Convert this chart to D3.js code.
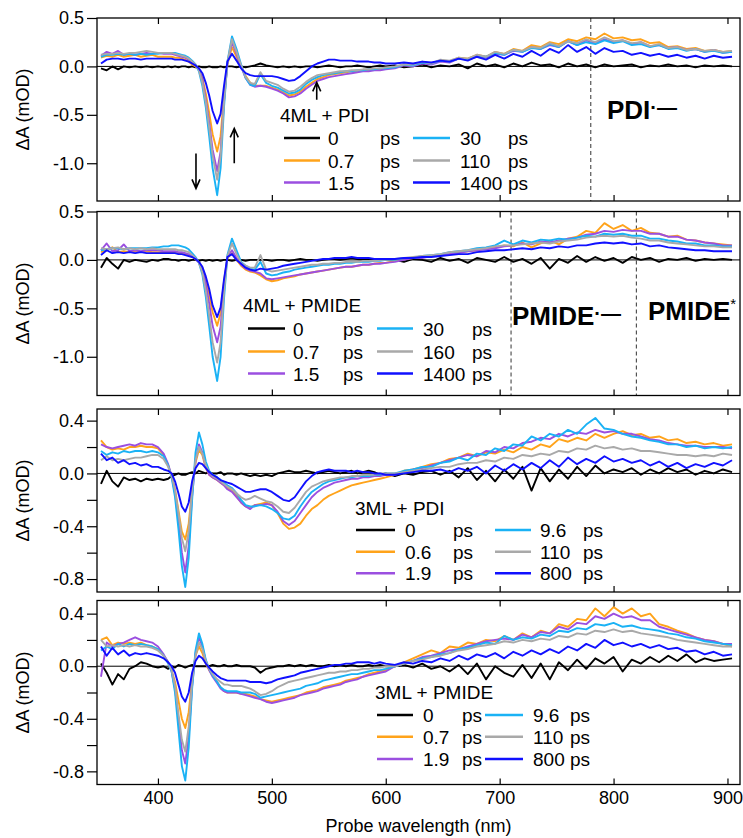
<!DOCTYPE html>
<html><head><meta charset="utf-8">
<script src="https://cdn.jsdelivr.net/npm/d3@7"></script>
<style>body{margin:0;background:#fff} svg{display:block} text{font-family:"Liberation Sans",Arial,sans-serif;fill:#000}</style>
</head><body><svg id="c" width="743" height="838"></svg>
<script>
const wavelengths = [350,355,360,365,370,375,380,385,390,395,400,405,409,412,415,418,421,424,427,430,433,436,439,442,445,448,452,455,458,461,465,469,473,477,481,485,490,495,500,505,510,515,520,525,530,535,540,545,550,555,560,565,570,575,580,585,590,595,600,608,616,624,632,640,648,656,664,672,680,688,696,704,712,720,728,736,744,752,760,768,776,784,792,800,808,816,824,832,840,848,856,864,872,880,888,896,904];
const xTickValues = [400,500,600,700,800,900];
const seriesColors = ["#000000","#ffa31a","#9b4fe0","#1ab2f5","#a9a9a9","#1010ff"];
const legendTitles = ["4ML + PDI","4ML + PMIDE","3ML + PDI","3ML + PMIDE"];
const p1Labels = ["0","0.7","1.5","30","110","1400"];
const p2Labels = ["0","0.7","1.5","30","160","1400"];
const p3Labels = ["0","0.6","1.9","9.6","110","800"];
const p4Labels = ["0","0.7","1.9","9.6","110","800"];

// Panel 1: 4ML + PDI
const p1_0 = [-0.02,-0.04,0.0,-0.03,0.0,-0.01,0.0,-0.01,0.0,-0.01,0.0,-0.01,
 0.0,-0.01,0.0,-0.01,0.0,0.0,-0.01,0.0,-0.01,0.0,-0.01,-0.01,0.0,-0.01,
 -0.01,0.0,-0.01,0.0,0.0,-0.01,0.0,-0.01,0.0,0.01,
 0.03,0.01,0.0,-0.01,0.0,-0.01,0.0,-0.01,0.0,0.0,-0.01,0.0,0.01,0.0,-0.01,0.0,0.0,0.01,0.0,-0.01,0.0,0.01,0.0,
 0.01,-0.01,0.0,0.02,-0.01,0.01,0.0,0.02,-0.02,0.03,0.0,0.02,-0.01,0.03,0.0,0.04,0.01,0.02,-0.01,0.03,0.0,0.02,-0.01,0.02,0.0,0.01,0.02,-0.01,0.01,0.0,0.02,0.0,0.01,-0.01,0.01,0.0,0.01,0.0];
const p1_07 = [0.09,0.11,0.1,0.12,0.1,0.11,0.12,0.1,0.11,0.12,0.1,0.1,
 0.1,0.1,0.09,0.09,0.08,0.07,0.05,0.02,0.0,-0.03,-0.12,-0.28,-0.48,-0.7,
 -0.88,-0.72,-0.3,0.02,0.2,0.1,0.0,-0.1,-0.17,-0.2,
 -0.2,-0.2,-0.22,-0.24,-0.27,-0.3,-0.29,-0.26,-0.21,-0.17,-0.13,-0.11,-0.09,-0.08,-0.07,-0.06,-0.05,-0.05,-0.04,-0.04,-0.03,-0.03,-0.02,
 -0.01,0.02,0.01,0.04,0.03,0.06,0.05,0.09,0.08,0.12,0.1,0.15,0.13,0.18,0.16,0.22,0.2,0.25,0.23,0.28,0.26,0.3,0.28,0.34,0.29,0.3,0.27,0.28,0.24,0.25,0.2,0.21,0.18,0.19,0.16,0.17,0.15,0.16];
const p1_15 = [0.11,0.15,0.13,0.16,0.12,0.13,0.12,0.13,0.14,0.13,0.14,0.13,
 0.13,0.13,0.12,0.11,0.1,0.09,0.07,0.04,0.01,-0.03,-0.14,-0.34,-0.58,-0.86,
 -1.08,-0.88,-0.36,0.03,0.25,0.13,0.0,-0.12,-0.19,-0.21,
 -0.2,-0.21,-0.23,-0.25,-0.28,-0.32,-0.31,-0.28,-0.23,-0.19,-0.15,-0.13,-0.11,-0.1,-0.09,-0.08,-0.07,-0.06,-0.05,-0.05,-0.04,-0.04,-0.03,
 -0.02,0.01,0.0,0.03,0.02,0.05,0.04,0.08,0.07,0.1,0.09,0.13,0.12,0.16,0.15,0.2,0.18,0.22,0.2,0.26,0.22,0.27,0.24,0.28,0.25,0.27,0.23,0.25,0.21,0.22,0.19,0.2,0.17,0.18,0.15,0.17,0.14,0.15];
const p1_30 = [0.1,0.12,0.12,0.13,0.12,0.13,0.12,0.13,0.12,0.13,0.13,0.14,
 0.14,0.14,0.14,0.13,0.12,0.11,0.09,0.06,0.02,-0.05,-0.2,-0.42,-0.72,-1.05,
 -1.33,-1.05,-0.42,0.05,0.31,0.18,0.02,-0.12,-0.19,-0.2,
 -0.08,-0.17,-0.2,-0.22,-0.25,-0.28,-0.27,-0.24,-0.18,-0.14,-0.11,-0.09,-0.08,-0.07,-0.06,-0.05,-0.05,-0.04,-0.04,-0.03,-0.03,-0.02,-0.02,
 -0.01,0.02,0.01,0.04,0.03,0.06,0.05,0.08,0.07,0.11,0.1,0.14,0.12,0.17,0.15,0.19,0.18,0.23,0.2,0.26,0.22,0.25,0.23,0.27,0.24,0.26,0.22,0.23,0.2,0.22,0.18,0.19,0.16,0.18,0.15,0.16,0.14,0.15];
const p1_110 = [0.12,0.13,0.13,0.14,0.13,0.14,0.14,0.15,0.16,0.15,0.14,0.14,
 0.14,0.14,0.13,0.12,0.11,0.1,0.08,0.05,0.02,-0.04,-0.17,-0.37,-0.63,-0.92,
 -1.17,-0.93,-0.37,0.04,0.28,0.15,0.01,-0.11,-0.17,-0.18,
 -0.06,-0.15,-0.17,-0.19,-0.23,-0.26,-0.25,-0.21,-0.16,-0.12,-0.09,-0.08,-0.07,-0.06,-0.05,-0.05,-0.04,-0.04,-0.03,-0.03,-0.02,-0.02,-0.01,
 0.0,0.02,0.02,0.05,0.03,0.07,0.06,0.09,0.08,0.12,0.1,0.15,0.13,0.17,0.16,0.2,0.19,0.24,0.21,0.26,0.24,0.28,0.25,0.3,0.26,0.27,0.24,0.25,0.21,0.23,0.19,0.2,0.17,0.18,0.16,0.17,0.15,0.16];
const p1_1400 = [0.03,0.07,0.08,0.08,0.07,0.08,0.08,0.07,0.08,0.08,0.08,0.08,
 0.08,0.08,0.07,0.07,0.07,0.06,0.05,0.03,0.01,-0.02,-0.07,-0.17,-0.3,-0.46,
 -0.59,-0.49,-0.2,0.05,0.13,0.06,-0.02,-0.07,-0.09,-0.1,
 -0.1,-0.1,-0.1,-0.11,-0.13,-0.15,-0.14,-0.1,-0.05,0.0,0.03,0.05,0.07,0.07,0.06,0.06,0.06,0.05,0.05,0.05,0.04,0.04,0.03,
 0.03,0.04,0.03,0.05,0.04,0.06,0.05,0.08,0.06,0.1,0.07,0.12,0.08,0.13,0.1,0.16,0.11,0.18,0.14,0.22,0.15,0.2,0.13,0.19,0.15,0.16,0.12,0.14,0.11,0.13,0.1,0.12,0.09,0.11,0.08,0.11,0.09,0.1];

// Panel 2: 4ML + PMIDE
const p2_0 = [-0.08,0.02,-0.04,-0.09,0.0,-0.02,0.0,-0.01,-0.02,0.0,-0.01,0.01,
 0.01,0.0,0.0,-0.01,0.0,0.0,-0.01,0.0,0.0,-0.01,0.0,-0.01,0.0,-0.01,
 0.0,-0.01,0.0,0.0,-0.01,0.0,0.0,-0.01,0.0,0.0,
 0.0,0.0,-0.01,0.0,0.0,-0.01,0.0,0.01,0.0,0.0,-0.01,0.0,0.01,0.01,0.0,0.01,0.02,0.01,0.0,0.01,0.0,0.01,0.0,
 0.0,-0.02,0.01,0.0,-0.02,0.02,-0.01,0.01,-0.03,0.02,0.0,-0.02,0.03,-0.02,0.01,-0.04,0.02,-0.09,0.01,-0.03,0.04,-0.02,0.03,-0.01,0.02,-0.03,0.03,0.0,0.02,-0.02,0.01,0.0,0.02,-0.01,0.01,0.0,0.01,0.0];
const p2_07 = [0.08,0.1,0.13,0.08,0.09,0.08,0.09,0.08,0.09,0.08,0.08,0.08,
 0.08,0.08,0.07,0.07,0.06,0.06,0.05,0.03,0.01,-0.02,-0.08,-0.2,-0.36,-0.54,
 -0.68,-0.55,-0.22,0.02,0.07,0.0,-0.06,-0.1,-0.12,-0.13,
 -0.16,-0.2,-0.22,-0.21,-0.19,-0.18,-0.17,-0.15,-0.14,-0.13,-0.12,-0.11,-0.1,-0.09,-0.08,-0.07,-0.07,-0.06,-0.05,-0.05,-0.04,-0.03,-0.03,
 -0.01,0.01,0.02,0.03,0.04,0.05,0.06,0.08,0.09,0.1,0.12,0.13,0.15,0.14,0.18,0.13,0.17,0.2,0.16,0.22,0.24,0.3,0.28,0.38,0.32,0.36,0.3,0.33,0.28,0.27,0.24,0.25,0.21,0.2,0.18,0.17,0.16,0.15];
const p2_15 = [0.1,0.17,0.09,0.1,0.16,0.09,0.1,0.09,0.1,0.1,0.1,0.09,
 0.09,0.09,0.09,0.08,0.08,0.07,0.06,0.04,0.01,-0.03,-0.1,-0.25,-0.45,-0.68,
 -0.85,-0.69,-0.27,0.03,0.1,0.02,-0.05,-0.09,-0.11,-0.12,
 -0.14,-0.19,-0.2,-0.19,-0.18,-0.17,-0.16,-0.15,-0.14,-0.13,-0.12,-0.11,-0.1,-0.09,-0.08,-0.07,-0.07,-0.06,-0.05,-0.05,-0.04,-0.04,-0.03,
 -0.02,0.0,0.02,0.02,0.04,0.05,0.06,0.07,0.09,0.1,0.11,0.12,0.14,0.15,0.17,0.16,0.19,0.18,0.2,0.22,0.23,0.26,0.27,0.3,0.29,0.31,0.3,0.3,0.27,0.27,0.24,0.24,0.21,0.2,0.18,0.17,0.15,0.15];
const p2_30 = [0.1,0.11,0.12,0.12,0.11,0.12,0.12,0.12,0.12,0.13,0.13,0.14,
 0.14,0.15,0.15,0.15,0.14,0.13,0.11,0.07,0.03,-0.03,-0.15,-0.38,-0.68,-1.0,
 -1.25,-1.0,-0.4,0.05,0.22,0.1,-0.02,-0.06,-0.09,-0.1,
 -0.02,-0.14,-0.16,-0.15,-0.13,-0.12,-0.1,-0.09,-0.08,-0.07,-0.06,-0.05,-0.05,-0.04,-0.04,-0.03,-0.03,-0.02,-0.02,-0.02,-0.01,-0.01,0.0,
 0.0,0.02,0.02,0.04,0.05,0.06,0.08,0.09,0.1,0.12,0.13,0.15,0.2,0.16,0.2,0.18,0.21,0.2,0.22,0.21,0.23,0.25,0.24,0.27,0.26,0.27,0.25,0.25,0.22,0.22,0.2,0.19,0.17,0.17,0.15,0.15,0.14,0.14];
const p2_160 = [0.12,0.11,0.12,0.13,0.11,0.12,0.11,0.12,0.11,0.12,0.11,0.11,
 0.11,0.11,0.11,0.1,0.1,0.09,0.08,0.05,0.02,-0.03,-0.13,-0.32,-0.57,-0.85,
 -1.06,-0.85,-0.33,0.04,0.17,0.06,-0.03,-0.06,-0.08,-0.08,
 0.05,-0.1,-0.12,-0.11,-0.1,-0.09,-0.08,-0.07,-0.06,-0.05,-0.05,-0.04,-0.04,-0.03,-0.03,-0.02,-0.02,-0.02,-0.01,-0.01,-0.01,0.0,0.0,
 0.01,0.02,0.03,0.04,0.05,0.06,0.08,0.09,0.1,0.11,0.12,0.14,0.15,0.15,0.16,0.17,0.18,0.17,0.19,0.2,0.21,0.23,0.24,0.25,0.24,0.25,0.23,0.22,0.2,0.2,0.18,0.17,0.16,0.15,0.14,0.14,0.13,0.13];
const p2_1400 = [0.05,0.1,0.07,0.08,0.07,0.08,0.07,0.08,0.07,0.07,0.07,0.07,
 0.07,0.07,0.07,0.06,0.06,0.05,0.04,0.03,0.01,-0.02,-0.07,-0.17,-0.3,-0.47,
 -0.59,-0.49,-0.2,0.03,0.06,0.0,-0.04,-0.08,-0.1,-0.11,
 -0.09,-0.1,-0.09,-0.08,-0.06,-0.05,-0.04,-0.03,-0.02,-0.01,0.0,0.01,0.01,0.02,0.02,0.02,0.03,0.02,0.02,0.02,0.01,0.01,0.01,
 0.01,0.02,0.02,0.03,0.03,0.04,0.05,0.06,0.06,0.08,0.09,0.1,0.1,0.11,0.12,0.11,0.13,0.12,0.14,0.13,0.15,0.15,0.17,0.18,0.17,0.18,0.16,0.17,0.14,0.15,0.13,0.12,0.11,0.1,0.1,0.09,0.09,0.09];

// Panel 3: 3ML + PDI
const p3_0 = [-0.08,0.02,-0.06,-0.1,-0.03,-0.05,-0.04,-0.06,-0.04,-0.05,-0.04,-0.05,
 -0.04,-0.02,-0.01,0.0,-0.01,-0.01,0.0,0.01,0.0,0.02,0.01,0.0,0.01,0.0,
 0.0,0.01,-0.01,0.0,0.0,-0.01,0.0,-0.01,-0.02,-0.01,
 -0.02,-0.01,-0.02,0.0,0.01,0.02,0.01,0.01,0.02,0.01,0.0,0.01,0.02,0.01,0.0,0.01,0.02,0.0,0.01,0.02,0.01,-0.01,0.0,
 -0.02,0.0,-0.01,0.01,0.02,-0.01,0.02,-0.03,0.04,-0.05,0.02,-0.06,0.03,-0.04,0.05,-0.13,0.04,-0.06,0.03,-0.04,0.05,-0.02,0.06,0.0,0.03,0.01,0.04,-0.01,0.03,0.0,0.04,0.01,0.03,-0.01,0.02,0.0,0.03,0.01];
const p3_06 = [0.25,0.2,0.18,0.19,0.18,0.2,0.2,0.21,0.2,0.2,0.19,0.14,
 0.06,-0.02,-0.12,-0.28,-0.44,-0.5,-0.38,-0.12,0.08,0.18,0.14,0.04,-0.01,-0.03,
 -0.05,-0.07,-0.09,-0.11,-0.13,-0.17,-0.22,-0.25,-0.26,-0.24,
 -0.23,-0.22,-0.24,-0.3,-0.38,-0.42,-0.41,-0.38,-0.32,-0.27,-0.24,-0.2,-0.17,-0.15,-0.13,-0.11,-0.09,-0.08,-0.07,-0.06,-0.05,-0.04,-0.03,
 -0.01,0.02,0.03,0.05,0.07,0.08,0.11,0.12,0.15,0.13,0.16,0.15,0.18,0.16,0.2,0.18,0.22,0.2,0.26,0.24,0.27,0.25,0.3,0.27,0.3,0.32,0.29,0.3,0.27,0.28,0.25,0.26,0.23,0.24,0.22,0.23,0.21,0.22];
const p3_19 = [0.22,0.2,0.19,0.2,0.21,0.22,0.21,0.23,0.22,0.22,0.2,0.15,
 0.07,-0.02,-0.15,-0.36,-0.6,-0.75,-0.55,-0.17,0.1,0.22,0.16,0.05,-0.01,-0.03,
 -0.05,-0.07,-0.09,-0.12,-0.14,-0.18,-0.22,-0.25,-0.27,-0.24,
 -0.24,-0.23,-0.24,-0.29,-0.36,-0.39,-0.36,-0.3,-0.24,-0.18,-0.14,-0.11,-0.09,-0.07,-0.06,-0.05,-0.04,-0.04,-0.03,-0.03,-0.02,-0.02,-0.01,
 -0.01,0.01,0.03,0.04,0.06,0.08,0.1,0.12,0.14,0.13,0.17,0.16,0.2,0.19,0.23,0.24,0.27,0.26,0.3,0.28,0.31,0.3,0.33,0.31,0.32,0.3,0.3,0.28,0.26,0.25,0.23,0.22,0.21,0.21,0.2,0.2,0.2,0.19];
const p3_96 = [0.17,0.14,0.16,0.15,0.17,0.16,0.17,0.17,0.16,0.17,0.16,0.13,
 0.06,-0.03,-0.18,-0.42,-0.7,-0.86,-0.64,-0.2,0.16,0.31,0.22,0.09,0.02,-0.01,
 -0.03,-0.05,-0.07,-0.09,-0.11,-0.15,-0.2,-0.24,-0.25,-0.25,
 -0.24,-0.25,-0.27,-0.3,-0.34,-0.35,-0.32,-0.25,-0.19,-0.14,-0.11,-0.08,-0.06,-0.05,-0.04,-0.03,-0.03,-0.02,-0.02,-0.02,-0.01,-0.01,0.0,
 0.0,0.02,0.03,0.05,0.05,0.08,0.09,0.12,0.1,0.15,0.14,0.19,0.17,0.22,0.21,0.28,0.25,0.3,0.28,0.33,0.3,0.37,0.42,0.34,0.33,0.3,0.28,0.27,0.25,0.24,0.22,0.22,0.2,0.21,0.19,0.2,0.19,0.2];
const p3_110 = [0.1,0.13,0.1,0.11,0.1,0.11,0.12,0.12,0.13,0.14,0.14,0.11,
 0.05,-0.02,-0.13,-0.3,-0.49,-0.59,-0.44,-0.13,0.1,0.2,0.15,0.06,0.01,-0.02,
 -0.04,-0.06,-0.08,-0.1,-0.12,-0.15,-0.18,-0.2,-0.19,-0.17,
 -0.19,-0.21,-0.22,-0.25,-0.29,-0.3,-0.26,-0.2,-0.14,-0.1,-0.08,-0.06,-0.05,-0.04,-0.03,-0.03,-0.02,-0.02,-0.01,-0.01,-0.01,0.0,0.0,
 0.0,0.01,0.02,0.03,0.04,0.05,0.05,0.07,0.08,0.08,0.1,0.09,0.12,0.11,0.14,0.13,0.15,0.14,0.17,0.16,0.19,0.18,0.21,0.19,0.2,0.18,0.19,0.17,0.17,0.16,0.15,0.14,0.14,0.13,0.14,0.13,0.15,0.14];
const p3_800 = [0.15,0.1,0.12,0.08,0.1,0.07,0.08,0.06,0.07,0.05,0.05,0.03,
 0.02,0.0,-0.06,-0.15,-0.25,-0.29,-0.22,-0.06,0.04,0.08,0.07,0.04,0.01,-0.01,
 -0.03,-0.05,-0.06,-0.07,-0.08,-0.1,-0.12,-0.14,-0.14,-0.13,
 -0.12,-0.12,-0.14,-0.17,-0.2,-0.21,-0.18,-0.12,-0.06,-0.02,0.01,0.02,0.03,0.02,0.02,0.02,0.01,0.02,0.01,0.01,0.0,0.0,-0.01,
 -0.01,0.0,0.01,0.02,0.02,0.03,0.01,0.04,0.02,0.05,0.0,0.06,0.02,0.07,0.03,0.08,0.04,0.1,0.05,0.12,0.07,0.11,0.08,0.13,0.09,0.11,0.08,0.1,0.06,0.09,0.05,0.08,0.04,0.07,0.05,0.08,0.06,0.1];

// Panel 4: 3ML + PMIDE
const p4_0 = [0.02,-0.05,-0.14,-0.06,-0.1,-0.02,0.0,0.03,0.02,0.0,-0.01,0.0,
 -0.02,0.0,-0.01,0.01,0.0,-0.01,0.0,0.01,0.0,0.0,0.0,0.0,0.0,0.01,
 0.0,0.0,0.01,0.0,0.0,0.01,0.0,0.0,0.0,-0.01,
 -0.05,-0.02,-0.01,0.0,0.0,0.01,0.0,0.01,0.0,0.01,0.0,0.0,0.01,0.0,0.01,0.0,0.01,0.0,0.0,0.01,0.0,0.01,0.0,
 0.0,0.01,-0.01,0.02,-0.02,0.0,-0.04,0.01,-0.06,0.02,-0.1,0.0,-0.05,-0.08,0.01,-0.09,0.02,-0.1,0.03,-0.03,0.05,-0.02,0.06,0.02,0.07,-0.04,0.05,0.02,0.07,0.03,0.08,0.04,0.09,0.03,0.06,0.04,0.05,0.06];
const p4_07 = [0.2,0.22,0.16,0.18,0.17,0.18,0.17,0.18,0.16,0.15,0.13,0.08,
 0.03,-0.03,-0.12,-0.26,-0.4,-0.47,-0.35,-0.1,0.08,0.15,0.1,0.02,-0.03,-0.07,
 -0.12,-0.16,-0.19,-0.2,-0.2,-0.2,-0.21,-0.21,-0.22,-0.23,
 -0.25,-0.26,-0.27,-0.26,-0.25,-0.24,-0.23,-0.22,-0.2,-0.19,-0.18,-0.16,-0.15,-0.14,-0.13,-0.11,-0.1,-0.09,-0.08,-0.06,-0.05,-0.04,-0.03,
 0.0,0.03,0.06,0.09,0.12,0.1,0.15,0.14,0.18,0.17,0.2,0.19,0.23,0.2,0.25,0.22,0.27,0.25,0.32,0.3,0.36,0.35,0.44,0.38,0.45,0.4,0.44,0.38,0.4,0.32,0.3,0.27,0.25,0.22,0.2,0.19,0.17,0.15];
const p4_19 = [-0.08,0.18,0.15,0.17,0.18,0.2,0.22,0.2,0.19,0.18,0.15,0.09,
 0.03,-0.04,-0.17,-0.4,-0.64,-0.74,-0.54,-0.15,0.1,0.22,0.15,0.04,-0.03,-0.08,
 -0.13,-0.17,-0.19,-0.2,-0.2,-0.2,-0.21,-0.22,-0.23,-0.24,
 -0.25,-0.27,-0.28,-0.27,-0.26,-0.25,-0.24,-0.22,-0.21,-0.2,-0.19,-0.17,-0.16,-0.15,-0.14,-0.12,-0.11,-0.1,-0.08,-0.07,-0.06,-0.05,-0.04,
 0.0,0.02,0.04,0.07,0.08,0.1,0.12,0.13,0.15,0.17,0.19,0.2,0.21,0.2,0.24,0.22,0.26,0.25,0.3,0.28,0.33,0.32,0.38,0.36,0.4,0.37,0.38,0.35,0.35,0.3,0.28,0.26,0.24,0.22,0.2,0.19,0.17,0.17];
const p4_96 = [0.12,0.15,0.13,0.17,0.15,0.17,0.16,0.17,0.16,0.15,0.13,0.08,
 0.02,-0.04,-0.2,-0.48,-0.76,-0.87,-0.62,-0.17,0.12,0.25,0.17,0.05,-0.02,-0.07,
 -0.12,-0.16,-0.18,-0.19,-0.19,-0.19,-0.2,-0.2,-0.2,-0.21,
 -0.24,-0.23,-0.22,-0.21,-0.2,-0.19,-0.18,-0.17,-0.15,-0.14,-0.13,-0.11,-0.1,-0.09,-0.08,-0.07,-0.06,-0.06,-0.05,-0.04,-0.03,-0.03,-0.02,
 0.0,0.02,0.04,0.06,0.07,0.09,0.1,0.13,0.14,0.16,0.18,0.17,0.23,0.2,0.22,0.21,0.24,0.23,0.27,0.26,0.29,0.28,0.32,0.31,0.33,0.3,0.31,0.29,0.28,0.27,0.25,0.24,0.22,0.21,0.19,0.18,0.17,0.16];
const p4_110 = [0.2,0.15,0.16,0.15,0.16,0.15,0.16,0.15,0.15,0.14,0.12,0.08,
 0.03,-0.03,-0.15,-0.36,-0.56,-0.65,-0.46,-0.12,0.08,0.18,0.13,0.04,-0.02,-0.06,
 -0.1,-0.12,-0.14,-0.14,-0.15,-0.15,-0.15,-0.16,-0.17,-0.19,
 -0.22,-0.21,-0.19,-0.16,-0.14,-0.12,-0.11,-0.1,-0.09,-0.08,-0.07,-0.06,-0.05,-0.05,-0.04,-0.04,-0.03,-0.03,-0.02,-0.02,-0.01,-0.01,0.0,
 0.0,0.02,0.04,0.05,0.07,0.08,0.1,0.12,0.13,0.15,0.16,0.17,0.19,0.18,0.2,0.19,0.21,0.2,0.23,0.22,0.25,0.24,0.27,0.26,0.28,0.26,0.27,0.25,0.24,0.23,0.22,0.2,0.19,0.18,0.17,0.16,0.15,0.15];
const p4_800 = [0.15,0.08,0.14,0.09,0.12,0.08,0.1,0.09,0.1,0.09,0.08,0.06,
 0.03,0.0,-0.05,-0.14,-0.23,-0.27,-0.2,-0.05,0.04,0.08,0.06,0.02,-0.01,-0.04,
 -0.07,-0.09,-0.1,-0.11,-0.11,-0.11,-0.11,-0.11,-0.12,-0.12,
 -0.12,-0.13,-0.12,-0.1,-0.09,-0.08,-0.07,-0.05,-0.04,-0.03,-0.02,-0.01,0.0,0.01,0.01,0.02,0.02,0.03,0.03,0.03,0.02,0.03,0.02,
 0.01,0.03,0.02,0.04,0.03,0.06,0.04,0.08,0.05,0.09,0.07,0.1,0.06,0.11,0.08,0.12,0.09,0.13,0.1,0.15,0.12,0.17,0.14,0.2,0.16,0.18,0.15,0.17,0.14,0.16,0.13,0.14,0.11,0.12,0.09,0.11,0.08,0.09];

const svg = d3.select("#c");
const x = d3.scaleLinear().domain([346.5, 911]).range([97, 740]);
const L = 97, R = 740;

const panels = [
  {top:18, bottom:201, yDomain:[-1.39,0.5], yTicks:[0.5,0,-0.5,-1.0], yLab:[0.5,0,-0.5,-1.0],
   labels:p1Labels, series:[p1_0,p1_07,p1_15,p1_30,p1_110,p1_1400],
   leg:{tx:280, ty:122, rows:[138,160.5,182.5], c1:[284,320,328,380], c2:[413,450,460,508]}, dashed:[780]},
  {top:211.5, bottom:395.5, yDomain:[-1.4,0.5], yTicks:[0.5,0,-0.5,-1.0], yLab:[0.5,0,-0.5,-1.0],
   labels:p2Labels, series:[p2_0,p2_07,p2_15,p2_30,p2_160,p2_1400],
   leg:{tx:243, ty:312, rows:[328.5,351.5,373.5], c1:[248,285,293,343], c2:[377,413,423,472]}, dashed:[710,820]},
  {top:409, bottom:592, yDomain:[-0.898,0.488], yTicks:[0.4,0.2,0,-0.2,-0.4,-0.6,-0.8], yLab:[0.4,0,-0.4,-0.8],
   labels:p3Labels, series:[p3_0,p3_06,p3_19,p3_96,p3_110,p3_800],
   leg:{tx:355, ty:515, rows:[530,551.7,573.3], c1:[356,395,405,453], c2:[495,531,540,583]}, dashed:[]},
  {top:600.5, bottom:784.5, yDomain:[-0.9,0.5], yTicks:[0.4,0.2,0,-0.2,-0.4,-0.6,-0.8], yLab:[0.4,0,-0.4,-0.8],
   labels:p4Labels, series:[p4_0,p4_07,p4_19,p4_96,p4_110,p4_800],
   leg:{tx:375, ty:699, rows:[715,736.7,759], c1:[377,413,423,462], c2:[485,523,533,570]}, dashed:[]}
];

panels.forEach((p, pi) => {
  const y = d3.scaleLinear().domain(p.yDomain).range([p.bottom, p.top]);
  const g = svg.append("g");
  const cid = "clip" + pi;
  svg.append("clipPath").attr("id", cid).append("rect")
    .attr("x", L).attr("y", p.top).attr("width", R - L).attr("height", p.bottom - p.top);

  g.append("line").attr("x1", L).attr("x2", R).attr("y1", y(0)).attr("y2", y(0))
    .attr("stroke", "#000").attr("stroke-width", 1);

  p.dashed.forEach(w => {
    g.append("line").attr("x1", x(w)).attr("x2", x(w)).attr("y1", p.top).attr("y2", p.bottom)
      .attr("stroke", "#333").attr("stroke-width", 1).attr("stroke-dasharray", "4,3");
  });

  const line = d3.line().x((d, i) => x(wavelengths[i])).y(d => y(d));
  const lg = g.append("g").attr("clip-path", `url(#${cid})`);
  p.series.forEach((s, si) => {
    const n = Math.min(s.length, wavelengths.length);
    lg.append("path").datum(s.slice(0, n)).attr("d", line)
      .attr("fill", "none").attr("stroke", seriesColors[si]).attr("stroke-width", 1.9)
      .attr("stroke-linejoin", "round");
  });

  g.append("rect").attr("x", L).attr("y", p.top).attr("width", R - L).attr("height", p.bottom - p.top)
    .attr("fill", "none").attr("stroke", "#000").attr("stroke-width", 1.3);

  const yAxis = d3.axisLeft(y).tickValues(p.yTicks).tickSize(10).tickPadding(3)
    .tickFormat(d => p.yLab.some(v => Math.abs(v - d) < 1e-9) ? d.toFixed(1) : "");
  const ya = g.append("g").attr("transform", `translate(${L},0)`).call(yAxis);
  ya.select(".domain").remove();
  ya.selectAll("line").attr("stroke-width", 1.2);
  ya.selectAll("text").attr("font-size", 18).attr("font-family", '"Liberation Sans",Arial,sans-serif');

  const xb = d3.axisBottom(x).tickValues(xTickValues).tickSize(-6).tickPadding(7)
    .tickFormat(pi === 3 ? d3.format("d") : () => "");
  const xba = g.append("g").attr("transform", `translate(0,${p.bottom})`).call(xb);
  xba.select(".domain").remove();
  xba.selectAll("line").attr("stroke-width", 1.2);
  xba.selectAll("text").attr("font-size", 18).attr("font-family", '"Liberation Sans",Arial,sans-serif');
  const xt = d3.axisTop(x).tickValues(xTickValues).tickSize(-6).tickFormat(() => "");
  const xta = g.append("g").attr("transform", `translate(0,${p.top})`).call(xt);
  xta.select(".domain").remove();
  xta.selectAll("line").attr("stroke-width", 1.2);

  g.append("text").attr("transform", `translate(29,${(p.top + p.bottom) / 2}) rotate(-90)`)
    .attr("text-anchor", "middle").attr("font-size", 18).text("ΔA (mOD)");

  const lgd = g.append("g");
  lgd.append("text").attr("x", p.leg.tx).attr("y", p.leg.ty).attr("font-size", 19).text(legendTitles[pi]);
  p.labels.forEach((lab, k) => {
    const col = k < 3 ? p.leg.c1 : p.leg.c2;
    const ry = p.leg.rows[k % 3];
    lgd.append("line").attr("x1", col[0]).attr("x2", col[1]).attr("y1", ry).attr("y2", ry)
      .attr("stroke", seriesColors[k]).attr("stroke-width", 2.6);
    lgd.append("text").attr("x", col[2]).attr("y", ry + 7).attr("font-size", 19).text(lab);
    lgd.append("text").attr("x", col[3]).attr("y", ry + 7).attr("font-size", 19).text("ps");
  });

  if (pi === 0) {
    const t = g.append("text").attr("x", 607).attr("y", 119).attr("font-size", 26).attr("font-weight", "bold");
    t.append("tspan").text("PDI");
    t.append("tspan").attr("dy", -5).attr("font-size", 20).text("·—");
    const arrows = [[433.4, -0.9, -1.26], [467, -1.0, -0.64], [539.4, -0.345, -0.165]];
    arrows.forEach(([w, y0, y1]) => {
      const ax = x(w), ya0 = y(y0), ya1 = y(y1);
      const dir = ya1 > ya0 ? -1 : 1;
      g.append("path")
        .attr("d", `M${ax},${ya0}L${ax},${ya1}M${ax - 4},${ya1 + dir * 9}L${ax},${ya1}L${ax + 4},${ya1 + dir * 9}`)
        .attr("fill", "none").attr("stroke", "#000").attr("stroke-width", 1.6);
    });
  }
  if (pi === 1) {
    const t1 = g.append("text").attr("x", 512).attr("y", 325).attr("font-size", 26).attr("font-weight", "bold");
    t1.append("tspan").text("PMIDE");
    t1.append("tspan").attr("dy", -5).attr("font-size", 20).text("·—");
    const t2 = g.append("text").attr("x", 648).attr("y", 320).attr("font-size", 26).attr("font-weight", "bold");
    t2.append("tspan").text("PMIDE");
    t2.append("tspan").attr("dy", -11).attr("font-size", 15).attr("font-weight", "normal").text("*");
  }
});

svg.append("text").attr("x", (L + R) / 2).attr("y", 832).attr("text-anchor", "middle")
  .attr("font-size", 18).text("Probe wavelength (nm)");
</script>
</body></html>
